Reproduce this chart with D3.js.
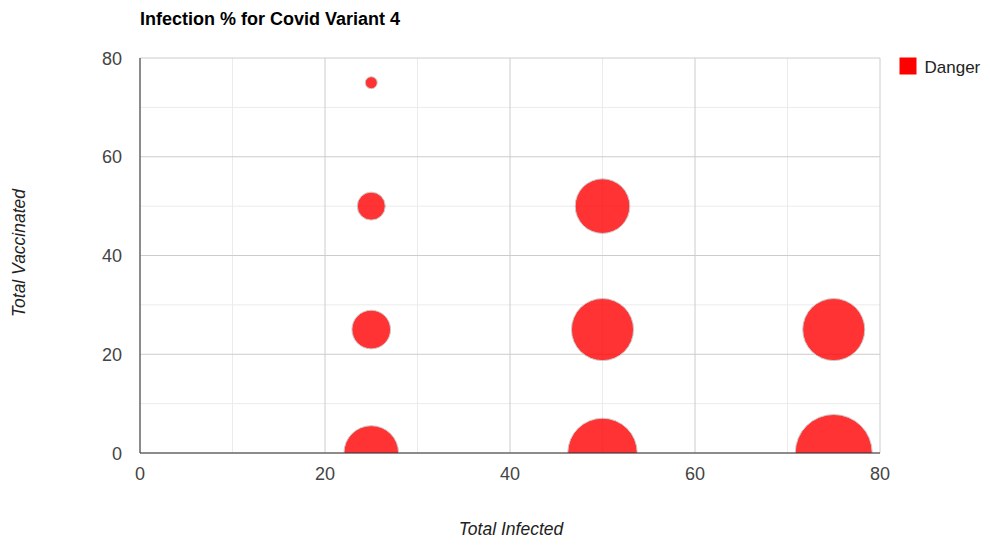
<!DOCTYPE html>
<html>
<head>
<meta charset="utf-8">
<script src="https://cdn.jsdelivr.net/npm/d3@7"></script>
<style>
  html, body { margin: 0; padding: 0; background: #fff; }
  svg { display: block; font-family: "Liberation Sans", Arial, sans-serif; }
</style>
</head>
<body>
<svg id="chart" width="990" height="545"></svg>
<script>
// Bubble data: infected (x), vaccinated (y), infection % (bubble size)
const infected   = [25, 25, 25, 25, 50, 50, 50, 75, 75];
const vaccinated = [75, 50, 25,  0, 50, 25,  0, 25,  0];
const infectionPct = [10, 25, 35, 50, 50, 57, 64, 57, 71];
const seriesName = "Danger";

const xTicks = [0, 20, 40, 60, 80];
const yTicks = [0, 20, 40, 60, 80];
const minorTicks = [10, 30, 50, 70];

const svg = d3.select("#chart");
const plot = { left: 140, top: 58, right: 880, bottom: 453 };

const x = d3.scaleLinear().domain([0, 80]).range([plot.left, plot.right]);
const y = d3.scaleLinear().domain([0, 80]).range([plot.bottom, plot.top]);
const r = d3.scaleLinear()
  .domain(d3.extent(infectionPct))
  .range([6, 38.5]);

// Title
svg.append("text")
  .attr("x", 140).attr("y", 25)
  .attr("font-size", 18).attr("font-weight", "bold")
  .attr("fill", "#000")
  .text("Infection % for Covid Variant 4");

const grid = svg.append("g");
// Minor gridlines
minorTicks.forEach(t => {
  grid.append("line").attr("x1", x(t)).attr("x2", x(t))
    .attr("y1", plot.top).attr("y2", plot.bottom)
    .attr("stroke", "#ebebeb").attr("stroke-width", 1);
  grid.append("line").attr("x1", plot.left).attr("x2", plot.right)
    .attr("y1", y(t)).attr("y2", y(t))
    .attr("stroke", "#ebebeb").attr("stroke-width", 1);
});
// Major gridlines
xTicks.forEach(t => {
  grid.append("line").attr("x1", x(t)).attr("x2", x(t))
    .attr("y1", plot.top).attr("y2", plot.bottom)
    .attr("stroke", "#cccccc").attr("stroke-width", 1);
});
yTicks.forEach(t => {
  grid.append("line").attr("x1", plot.left).attr("x2", plot.right)
    .attr("y1", y(t)).attr("y2", y(t))
    .attr("stroke", "#cccccc").attr("stroke-width", 1);
});

// Clip bubbles to the plot area
svg.append("defs").append("clipPath").attr("id", "plotClip")
  .append("rect")
  .attr("x", plot.left).attr("y", plot.top - 40)
  .attr("width", plot.right - plot.left)
  .attr("height", plot.bottom - plot.top + 40);

const data = infected.map((d, i) => ({ x: d, y: vaccinated[i], s: infectionPct[i] }));
// Larger bubbles drawn first
data.sort((a, b) => b.s - a.s);

svg.append("g").attr("clip-path", "url(#plotClip)")
  .selectAll("circle").data(data).join("circle")
  .attr("cx", d => x(d.x))
  .attr("cy", d => y(d.y))
  .attr("r", d => r(d.s))
  .attr("fill", "#ff0000")
  .attr("fill-opacity", 0.8)
  .attr("stroke", "#cccccc")
  .attr("stroke-width", 1);

// Axis lines
svg.append("line").attr("x1", plot.left).attr("x2", plot.left)
  .attr("y1", plot.top).attr("y2", plot.bottom)
  .attr("stroke", "#333").attr("stroke-width", 1);
svg.append("line").attr("x1", plot.left).attr("x2", plot.right)
  .attr("y1", plot.bottom).attr("y2", plot.bottom)
  .attr("stroke", "#333").attr("stroke-width", 1);

// Tick labels
svg.append("g").selectAll("text").data(xTicks).join("text")
  .attr("x", d => x(d)).attr("y", 479.5)
  .attr("text-anchor", "middle")
  .attr("font-size", 18).attr("fill", "#444")
  .text(d => d);
svg.append("g").selectAll("text").data(yTicks).join("text")
  .attr("x", 122).attr("y", d => y(d) + 6.5)
  .attr("text-anchor", "end")
  .attr("font-size", 18).attr("fill", "#444")
  .text(d => d);

// Axis titles
svg.append("text")
  .attr("x", 511).attr("y", 535)
  .attr("text-anchor", "middle")
  .attr("font-size", 17.5).attr("font-style", "italic").attr("fill", "#222")
  .text("Total Infected");
svg.append("text")
  .attr("transform", "translate(24.5,253) rotate(-90)")
  .attr("text-anchor", "middle")
  .attr("font-size", 17.5).attr("font-style", "italic").attr("fill", "#222")
  .text("Total Vaccinated");

// Legend
const lg = svg.append("g").attr("transform", "translate(899.5,57.5)");
lg.append("rect").attr("width", 17).attr("height", 17).attr("fill", "#ff0000");
lg.append("text").attr("x", 25).attr("y", 15.5)
  .attr("font-size", 17).attr("fill", "#222")
  .text(seriesName);
</script>
</body>
</html>
